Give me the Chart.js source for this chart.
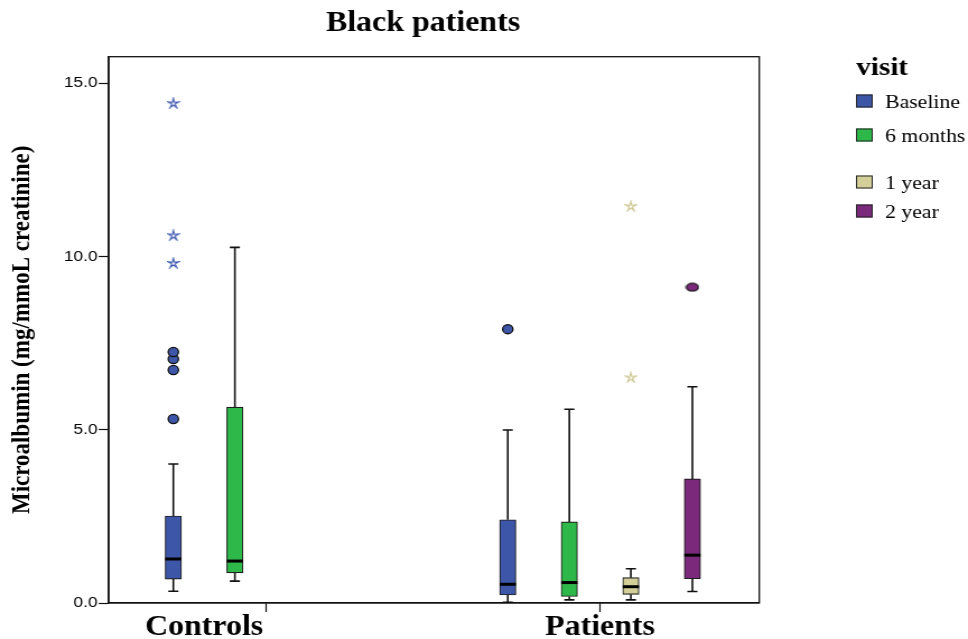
<!DOCTYPE html>
<html>
<head>
<meta charset="utf-8">
<title>Black patients</title>
<script src="https://cdn.jsdelivr.net/npm/chart.js@4/dist/chart.umd.min.js"></script>
<style>
  html, body { margin: 0; padding: 0; background: #fff; overflow: hidden; }
  #wrap { width: 864px; height: 639px; transform: scaleX(1.12037); transform-origin: 0 0; }
  canvas { display: block; }
</style>
</head>
<body>
<div id="wrap"><canvas id="chart" width="864" height="639"></canvas></div>
<script>
// Groups on the x axis and visits inside each group
const categories = ['Controls', 'Patients'];
const visits = ['Baseline', '6 months', '1 year', '2 year'];

// Box statistics per group: [lower whisker, Q1, median, Q3, upper whisker]
const baselineBox = [[0.34, 0.69, 1.27, 2.51, 4.01], [0.02, 0.23, 0.54, 2.40, 4.99]];
const sixMonthBox = [[0.63, 0.87, 1.21, 5.65, 10.26], [0.09, 0.19, 0.59, 2.34, 5.59]];
const oneYearBox  = [null, [0.09, 0.25, 0.47, 0.73, 0.99]];
const twoYearBox  = [null, [0.33, 0.70, 1.38, 3.58, 6.24]];

// Outliers (circles) and extreme values (stars) per group
const baselineOutliers = [[5.31, 6.72, 7.04, 7.24], [7.90]];
const baselineExtremes = [[9.81, 10.61, 14.42], []];
const sixMonthOutliers = [[], []];
const sixMonthExtremes = [[], []];
const oneYearOutliers  = [[], []];
const oneYearExtremes  = [[], [6.51, 11.45]];
const twoYearOutliers  = [[], [9.11]];
const twoYearExtremes  = [[], []];

// Value axis ticks
const yTicks = [0, 5, 10, 15];

const colors = ['#3d56a8', '#2eb84a', '#d4cf98', '#7b2a7b'];
const serif = "'Liberation Serif', 'Times New Roman', serif";
const sans = "'Liberation Sans', Arial, sans-serif";

const series = [
  { box: baselineBox, outliers: baselineOutliers, extremes: baselineExtremes },
  { box: sixMonthBox, outliers: sixMonthOutliers, extremes: sixMonthExtremes },
  { box: oneYearBox,  outliers: oneYearOutliers,  extremes: oneYearExtremes },
  { box: twoYearBox,  outliers: twoYearOutliers,  extremes: twoYearExtremes }
];

// Each group occupies slot positions around its integer x value
const SLOT = 0.184;
const slotPos = (ci, si) => (ci + 1) + (si - (visits.length - 1) / 2) * SLOT;

const BOX_W = 14.5;
const CAP_W = 9;

function starMarker(color) {
  const c = document.createElement('canvas');
  c.width = 12; c.height = 12;
  const g = c.getContext('2d');
  g.strokeStyle = color;
  g.lineWidth = 1.1;
  g.lineJoin = 'miter';
  g.beginPath();
  for (let k = 0; k < 10; k++) {
    const r = k % 2 === 0 ? 5.3 : 1.5;
    const a = -Math.PI / 2 + k * Math.PI / 5;
    const px = 6 + r * Math.cos(a), py = 6.4 + r * Math.sin(a);
    if (k === 0) g.moveTo(px, py); else g.lineTo(px, py);
  }
  g.closePath();
  g.stroke();
  return c;
}

function ellipseMarker(color) {
  const c = document.createElement('canvas');
  c.width = 13; c.height = 10;
  const g = c.getContext('2d');
  g.fillStyle = color;
  g.strokeStyle = '#111';
  g.lineWidth = 1.3;
  g.beginPath();
  g.ellipse(6.5, 5, 5.4, 3.8, 0, 0, Math.PI * 2);
  g.fill();
  g.stroke();
  return c;
}

const datasets = [];
series.forEach((s, si) => {
  datasets.push({
    type: 'bar',
    label: visits[si],
    data: s.box.map((b, ci) => b ? { x: slotPos(ci, si), y: [b[1], b[3]] } : null).filter(Boolean),
    backgroundColor: colors[si],
    borderColor: '#1e1e1e',
    borderWidth: 1.1,
    borderSkipped: false,
    barThickness: BOX_W,
    grouped: false,
    order: 2
  });
  const outPts = [];
  s.outliers.forEach((vals, ci) => vals.forEach(v => outPts.push({ x: slotPos(ci, si), y: v })));
  if (outPts.length) {
    datasets.push({
      type: 'scatter',
      label: visits[si] + ' outliers',
      data: outPts,
      pointStyle: si === 3 ? ellipseMarker(colors[si]) : 'circle',
      pointRadius: 4.6,
      backgroundColor: colors[si],
      borderColor: '#111',
      borderWidth: 1.3,
      order: 1
    });
  }
  const extPts = [];
  s.extremes.forEach((vals, ci) => vals.forEach(v => extPts.push({ x: slotPos(ci, si), y: v })));
  if (extPts.length) {
    datasets.push({
      type: 'scatter',
      label: visits[si] + ' extremes',
      data: extPts,
      pointStyle: starMarker(si === 0 ? '#3f58b0' : '#cdc791'),
      pointRadius: 5,
      order: 1
    });
  }
});

// Plot frame, whiskers and medians
const boxplotParts = {
  id: 'boxplotParts',
  beforeDatasetsDraw(chart) {
    const { ctx, chartArea: a, scales: { x, y } } = chart;
    ctx.save();
    ctx.strokeStyle = '#111';
    ctx.lineWidth = 1.3;
    ctx.strokeRect(a.left, a.top, a.right - a.left, a.bottom - a.top);
    ctx.lineWidth = 1.6;
    series.forEach((s, si) => {
      s.box.forEach((b, ci) => {
        if (!b) return;
        const px = x.getPixelForValue(slotPos(ci, si));
        ctx.beginPath();
        ctx.moveTo(px, y.getPixelForValue(b[4]));
        ctx.lineTo(px, y.getPixelForValue(b[3]));
        ctx.moveTo(px, y.getPixelForValue(b[1]));
        ctx.lineTo(px, y.getPixelForValue(b[0]));
        ctx.moveTo(px - CAP_W / 2, y.getPixelForValue(b[4]));
        ctx.lineTo(px + CAP_W / 2, y.getPixelForValue(b[4]));
        ctx.moveTo(px - CAP_W / 2, y.getPixelForValue(b[0]));
        ctx.lineTo(px + CAP_W / 2, y.getPixelForValue(b[0]));
        ctx.stroke();
      });
    });
    ctx.restore();
  },
  afterDatasetsDraw(chart) {
    const { ctx, scales: { x, y } } = chart;
    ctx.save();
    ctx.strokeStyle = '#000';
    ctx.lineWidth = 3;
    series.forEach((s, si) => {
      s.box.forEach((b, ci) => {
        if (!b) return;
        const px = x.getPixelForValue(slotPos(ci, si));
        const py = y.getPixelForValue(b[2]);
        ctx.beginPath();
        ctx.moveTo(px - BOX_W / 2, py);
        ctx.lineTo(px + BOX_W / 2, py);
        ctx.stroke();
      });
    });
    ctx.restore();
  },
  afterDraw(chart) {
    const { ctx, scales: { x } } = chart;
    ctx.save();
    ctx.fillStyle = '#000';
    ctx.textBaseline = 'alphabetic';

    // Title
    ctx.textAlign = 'center';
    ctx.font = 'bold 28.5px ' + serif;
    ctx.fillText('Black patients', 377.6, 31);

    // Group labels, centred under the boxes present in each group
    ctx.font = 'bold 28.5px ' + serif;
    categories.forEach((cat, ci) => {
      const xs = [];
      series.forEach((s, si) => { if (s.box[ci]) xs.push(x.getPixelForValue(slotPos(ci, si))); });
      const cx = xs.reduce((p, q) => p + q, 0) / xs.length;
      ctx.fillText(cat, cx, 635);
    });

    // Legend
    ctx.textAlign = 'left';
    ctx.font = 'bold 26px ' + serif;
    ctx.fillText('visit', 764.3, 75);
    const rowY = [101, 135, 182, 211];
    ctx.font = '19.4px ' + serif;
    visits.forEach((v, i) => {
      const top = rowY[i] - 6.5;
      ctx.fillStyle = colors[i];
      ctx.fillRect(764, top, 15, 13);
      ctx.strokeStyle = '#222';
      ctx.lineWidth = 1;
      ctx.strokeRect(764.5, top + 0.5, 14, 12);
      ctx.fillStyle = '#000';
      ctx.fillText(v, 790, top + 13.5);
    });
    ctx.restore();
  }
};

new Chart(document.getElementById('chart'), {
  type: 'bar',
  data: { datasets },
  options: {
    responsive: false,
    animation: false,
    devicePixelRatio: 1,
    layout: { padding: { top: 56.7, right: 186.3, bottom: 0, left: 0 } },
    plugins: { legend: { display: false }, tooltip: { enabled: false }, title: { display: false } },
    scales: {
      x: {
        type: 'linear',
        min: 0.531,
        max: 2.476,
        offset: false,
        grid: { display: true, drawOnChartArea: false, drawTicks: true, tickLength: 9, color: '#111', tickWidth: 1.2, offset: false },
        border: { display: true, color: '#111', width: 1.3 },
        ticks: { display: false },
        afterBuildTicks(scale) { scale.ticks = categories.map((c, i) => ({ value: i + 1 })); },
        afterFit(scale) { scale.height = 36; }
      },
      y: {
        type: 'linear',
        min: 0,
        max: 15.76,
        grid: { display: true, drawOnChartArea: false, drawTicks: true, tickLength: 9, color: '#111', tickWidth: 1.2 },
        border: { display: true, color: '#111', width: 1.3 },
        ticks: {
          color: '#000',
          padding: 1,
          font: { family: sans, size: 15.5 },
          callback: v => Number(v).toFixed(1)
        },
        afterBuildTicks(scale) { scale.ticks = yTicks.map(v => ({ value: v })); },
        title: {
          display: true,
          text: 'Microalbumin (mg/mmoL creatinine)',
          color: '#000',
          font: { family: serif, size: 23, weight: 'bold' },
          padding: { top: 6, bottom: 0 }
        },
        afterFit(scale) { scale.width = 97.1; }
      }
    }
  },
  plugins: [boxplotParts]
});
</script>
</body>
</html>
